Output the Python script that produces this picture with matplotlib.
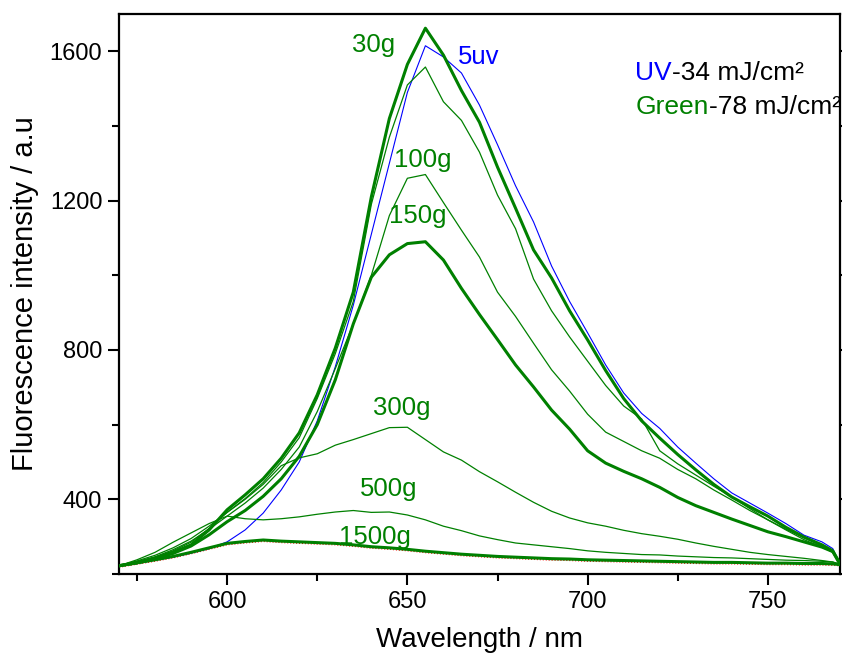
import numpy as np
import matplotlib
matplotlib.use("Agg")
from matplotlib import pyplot as plt
from matplotlib.ticker import MultipleLocator

plt.rcParams['font.family'] = ['Liberation Sans', 'DejaVu Sans']

GREEN = "#008000"
BLUE = "#0000ff"

# wavelength grid (nm)
wavelength = [570, 575, 580, 585, 590, 595, 600, 605, 610, 615, 620, 625, 630, 635,
              640, 645, 650, 655, 660, 665, 670, 675, 680, 685, 690, 695, 700, 705,
              710, 715, 720, 725, 730, 735, 740, 745, 750, 755, 760, 765, 768, 770]

uv_5 = [222, 228, 237, 245, 256, 268, 286, 318, 363, 425, 500, 610, 755, 920,
        1110, 1300, 1490, 1615, 1585, 1542, 1456, 1350, 1240, 1143, 1025, 930, 846, 760,
        685, 630, 590, 540, 497, 455, 417, 390, 363, 335, 304, 286, 268, 225]

green_30 = [222, 230, 242, 258, 278, 318, 372, 412, 455, 510, 578, 680, 805, 955,
            1210, 1420, 1565, 1662, 1590, 1495, 1410, 1290, 1180, 1068, 993, 905, 827, 745,
            670, 610, 564, 520, 479, 440, 406, 380, 355, 325, 299, 278, 262, 228]

green_50 = [222, 232, 245, 262, 285, 322, 365, 402, 445, 500, 565, 670, 790, 930,
            1190, 1370, 1510, 1558, 1465, 1415, 1330, 1215, 1125, 990, 905, 835, 770, 705,
            650, 615, 530, 495, 465, 435, 406, 375, 345, 318, 292, 272, 258, 228]

green_100 = [222, 233, 246, 265, 288, 320, 355, 390, 430, 480, 540, 635, 750, 870,
             1000, 1160, 1260, 1270, 1195, 1121, 1049, 955, 890, 818, 747, 690, 628, 580,
             555, 530, 510, 480, 455, 425, 398, 370, 345, 320, 297, 275, 260, 228]

green_150 = [222, 230, 240, 255, 275, 305, 340, 370, 408, 455, 515, 600, 720, 870,
             995, 1055, 1085, 1090, 1041, 965, 895, 828, 760, 701, 639, 588, 530, 497,
             475, 455, 432, 405, 383, 365, 347, 330, 313, 300, 286, 272, 260, 226]

green_300 = [222, 235, 250, 270, 295, 328, 365, 400, 440, 490, 511, 522, 545, 560,
             576, 592, 593, 560, 527, 505, 474, 447, 419, 392, 368, 350, 337, 328,
             317, 308, 301, 293, 283, 274, 266, 258, 252, 247, 242, 236, 232, 226]

green_500 = [222, 238, 258, 285, 310, 335, 355, 348, 345, 348, 353, 360, 366, 370,
             365, 366, 358, 345, 328, 316, 302, 292, 283, 278, 273, 268, 262, 258,
             255, 252, 251, 248, 246, 244, 243, 241, 239, 237, 236, 234, 232, 226]

green_1500 = [222, 230, 238, 247, 258, 270, 282, 287, 291, 288, 286, 284, 282, 278,
              273, 270, 266, 261, 257, 253, 250, 247, 245, 243, 241, 240, 238, 237,
              236, 235, 234, 233, 232, 231, 231, 230, 229, 229, 228, 228, 227, 225]

red_base = [218, 226, 234, 243, 254, 266, 278, 283, 287, 284, 282, 280, 278, 274,
            269, 266, 262, 257, 253, 249, 246, 243, 241, 239, 237, 236, 234, 233,
            232, 231, 230, 229, 228, 227, 227, 226, 225, 225, 224, 224, 223, 222]

# curve labels: text, x (nm), y (a.u.), colour
labels = [("30g", 640.6, 1617, GREEN), ("5uv", 669.7, 1585, BLUE),
          ("100g", 654.2, 1309, GREEN), ("150g", 653.0, 1160, GREEN),
          ("300g", 648.5, 645, GREEN), ("500g", 644.7, 428, GREEN),
          ("1500g", 641.0, 299, GREEN)]


def main():
    fig = plt.figure(figsize=(8.42, 6.55), dpi=100)
    ax = fig.add_axes([0.1413, 0.1237, 0.8563, 0.8549])

    ax.plot(wavelength, red_base, color="red", lw=0.8, ls=":", zorder=1)
    ax.plot(wavelength, uv_5, color=BLUE, lw=0.8, zorder=2)
    ax.plot(wavelength, green_30, color=GREEN, lw=2.2, zorder=3)
    ax.plot(wavelength, green_50, color=GREEN, lw=0.9, zorder=3)
    ax.plot(wavelength, green_100, color=GREEN, lw=0.9, zorder=3)
    ax.plot(wavelength, green_150, color=GREEN, lw=2.2, zorder=3)
    ax.plot(wavelength, green_300, color=GREEN, lw=0.9, zorder=3)
    ax.plot(wavelength, green_500, color=GREEN, lw=0.9, zorder=3)
    ax.plot(wavelength, green_1500, color=GREEN, lw=2.2, zorder=3)

    for txt, x, y, c in labels:
        ax.text(x, y, txt, color=c, fontsize=18.5, ha="center", va="center", zorder=5)

    # legend-like annotation with two colours per line
    t1 = ax.text(0.716, 0.895, "UV", color=BLUE, fontsize=19, transform=ax.transAxes,
                 va="center", ha="left")
    ax.annotate("-34 mJ/cm²", xy=(1, 0), xycoords=t1, va="bottom", ha="left",
                fontsize=19, color="black")
    t2 = ax.text(0.716, 0.834, "Green", color=GREEN, fontsize=19, transform=ax.transAxes,
                 va="center", ha="left")
    ax.annotate("-78 mJ/cm²", xy=(1, 0), xycoords=t2, va="bottom", ha="left",
                fontsize=19, color="black", annotation_clip=False)

    ax.set_xlim(570, 770)
    ax.set_ylim(200, 1700)
    ax.xaxis.set_major_locator(MultipleLocator(50))
    ax.xaxis.set_minor_locator(MultipleLocator(25))
    ax.yaxis.set_major_locator(MultipleLocator(400))
    ax.yaxis.set_minor_locator(MultipleLocator(200))
    ax.set_yticks([400, 800, 1200, 1600])

    ax.tick_params(which="major", direction="out", length=8, width=1.5, labelsize=17, pad=4,
                   right=True, top=False)
    ax.tick_params(which="minor", direction="out", length=5, width=1.5, right=True, top=False)
    for s in ax.spines.values():
        s.set_linewidth(1.6)

    ax.set_xlabel("Wavelength / nm", fontsize=20, labelpad=10)
    ax.set_ylabel("Fluorescence intensity / a.u", fontsize=21, labelpad=8)

    fig.savefig("out.png", dpi=100)
    plt.close(fig)


if __name__ == "__main__":
    main()
